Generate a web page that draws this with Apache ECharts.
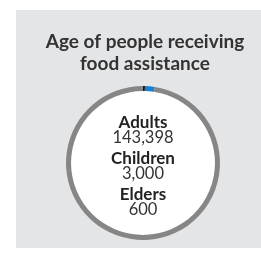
<!DOCTYPE html>
<html>
<head>
<meta charset="utf-8">
<script src="https://cdn.jsdelivr.net/npm/echarts@6/dist/echarts.min.js"></script>
<style>
  html, body { margin: 0; padding: 0; background: #fff; }
  #chart { width: 261px; height: 253px; }
</style>
</head>
<body>
<div id="chart"></div>
<script>
// age groups, clockwise from the top
var groups = ['Elders', 'Children', 'Adults'];
var people = [600, 3000, 143398];
var colors = ['#151515', '#1b7fcf', '#868686'];

// text in the middle, top to bottom
var centerOrder = [2, 1, 0];

var chart = echarts.init(document.getElementById('chart'));

// name / value pairs stacked in the white disk
var centerText = [];
centerOrder.forEach(function (idx, k) {
    var y0 = 123 + k * 36;
    centerText.push({
        type: 'text', x: 143, y: y0, silent: true, z: 10,
        style: {
            text: groups[idx], align: 'center', verticalAlign: 'middle',
            fontFamily: 'Lato', fontWeight: 'bold', fontSize: 17, fill: '#222'
        }
    });
    centerText.push({
        type: 'text', x: 143, y: y0 + 14.5, silent: true, z: 10,
        style: {
            text: people[idx].toLocaleString('en-US'), align: 'center', verticalAlign: 'middle',
            fontFamily: 'Lato', fontSize: 16.5, fill: '#333'
        }
    });
});

chart.setOption({
    animation: false,
    graphic: [{
        type: 'rect',
        shape: { x: 16, y: 10, width: 245, height: 238 },
        style: { fill: '#e4e5e7' },
        silent: true,
        z: -10
    }, {
        type: 'text',
        x: 145,
        y: 31,
        silent: true,
        style: {
            text: 'Age of people receiving\nfood assistance',
            align: 'center',
            verticalAlign: 'top',
            fontFamily: 'Lato',
            fontWeight: 'bold',
            fontSize: 19,
            lineHeight: 22,
            fill: '#333'
        }
    }].concat(centerText),
    series: [{
        type: 'pie',
        center: [143, 163],
        radius: [0, 72],
        silent: true,
        label: { show: false },
        itemStyle: { color: '#fff' },
        data: [1]
    }, {
        type: 'pie',
        center: [143, 163],
        radius: [72, 77],
        startAngle: 90,
        clockwise: true,
        silent: true,
        label: { show: false },
        labelLine: { show: false },
        data: groups.map(function (g, i) {
            return { name: g, value: people[i], itemStyle: { color: colors[i] } };
        })
    }]
});
</script>
</body>
</html>
